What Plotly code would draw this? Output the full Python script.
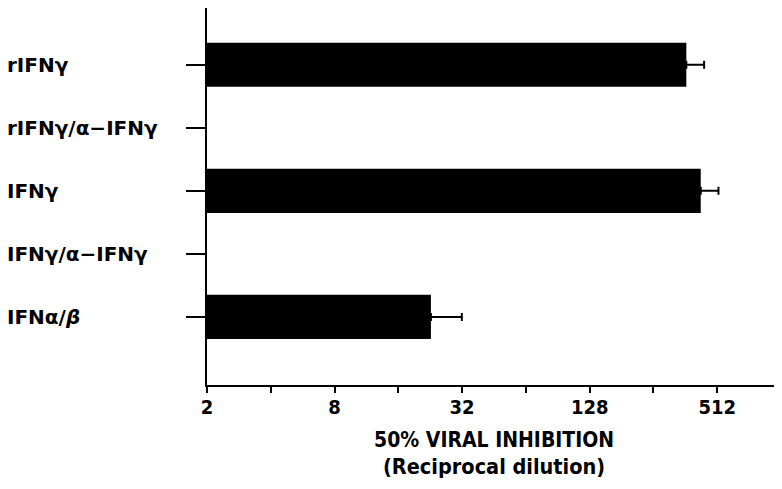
import plotly.graph_objects as go

categories = ["rIFNγ", "rIFNγ/α−IFNγ", "IFNγ", "IFNγ/α−IFNγ", "IFNα/<i>β</i>"]
values = [366, None, 428, None, 22.8]
err_plus = [78, None, 91, None, 9.1]

tick_vals = [2, 4, 8, 16, 32, 64, 128, 256, 512, 1024]
tick_text = ["2", "", "8", "", "32", "", "128", "", "512", ""]

FONT = "DejaVu Sans Condensed"
LABEL_FONT = "DejaVu Sans"

fig = go.Figure()
fig.add_trace(go.Bar(
    y=categories, x=values, orientation="h",
    marker=dict(color="black", line=dict(width=0)),
    width=0.7,
    error_x=dict(type="data", symmetric=False, array=err_plus,
                 arrayminus=[0 if v is not None else None for v in err_plus],
                 color="black", thickness=2, width=4),
    showlegend=False,
))

for c in categories:
    fig.add_annotation(text=c, xref="paper", yref="y", x=-0.352, y=c,
                       xanchor="left", yanchor="middle", showarrow=False,
                       font=dict(family=LABEL_FONT, size=20, color="black", weight="bold"))

fig.add_annotation(text="50% VIRAL INHIBITION", xref="paper", yref="paper",
                   x=0.5, y=-0.146, xanchor="center", yanchor="middle",
                   showarrow=False,
                   font=dict(family=FONT, size=21, color="black", weight="bold"))
fig.add_annotation(text="(Reciprocal dilution)", xref="paper", yref="paper",
                   x=0.5, y=-0.2175, xanchor="center", yanchor="middle",
                   showarrow=False,
                   font=dict(family=FONT, size=21.5, color="black", weight="bold"))

fig.update_layout(
    width=774, height=481,
    margin=dict(l=199, r=1, t=0, b=104),
    plot_bgcolor="white", paper_bgcolor="white",
    xaxis=dict(type="log", range=[0.30103, 3.0103], tickvals=tick_vals,
               ticktext=tick_text, ticks="outside", ticklen=6, tickwidth=2,
               tickcolor="black", showline=True, linecolor="black", linewidth=2,
               showgrid=False, zeroline=False, ticklabelstandoff=-3,
               tickfont=dict(family=FONT, size=20, color="black", weight="bold")),
    yaxis=dict(type="category", range=[5.08, -0.9], ticks="outside", ticklen=19,
               tickwidth=2, tickcolor="black", showline=True, linecolor="black",
               linewidth=2, showgrid=False, zeroline=False, showticklabels=False),
)

fig.write_html("out.html")
